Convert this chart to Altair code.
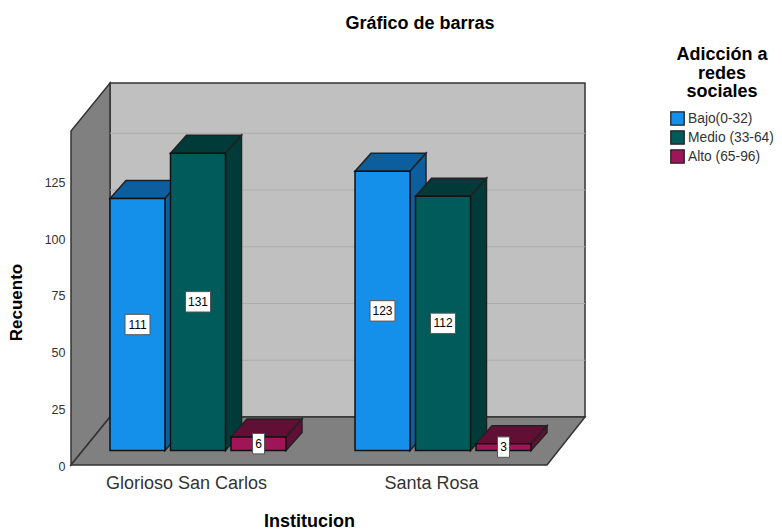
import altair as alt
import pandas as pd

# ---- values
institutions = ["Glorioso San Carlos", "Santa Rosa"]
series = ["Bajo(0-32)", "Medio (33-64)", "Alto (65-96)"]
bajo = [111, 123]
medio = [131, 112]
alto = [6, 3]
y_ticks = [0, 25, 50, 75, 100, 125]

# ---- colours
front_colors = ["#1590EA", "#005B5A", "#A01558"]
dark_colors = ["#0C5F9C", "#003B39", "#620F36"]
WALL = "#C0C0C0"
SIDE = "#808080"
GRID = "#ADADAD"
FONT = "Liberation Sans"

# ---- layout of the pseudo-3D box (x axis units are screen pixels)
PX = 2.27            # pixels per count
W, H = 514, 382
DX, DY = 39, 48 / PX  # depth of the box
BX, BY = 16, 18 / PX  # depth of a bar
BAR_W, STEP, GROUP = 55, 60.5, 245
X0 = 39
BASE = 14.5 / PX
FLOOR_W = 476
BOX_TOP = H / PX


def poly(rows, pid, fill, pts):
    for x, lo, hi in pts:
        rows.append({"poly": pid, "x": x, "y": lo, "y2": hi, "fill": fill})


wall_rows = []
poly(wall_rows, "a", WALL, [(DX, DY, BOX_TOP), (W, DY, BOX_TOP)])
poly(wall_rows, "b", SIDE, [(0, 0, BOX_TOP - DY), (DX, DY, BOX_TOP)])
poly(wall_rows, "c", SIDE, [(0, 0, 0), (DX, 0, DY), (FLOOR_W, 0, DY), (W, DY, DY)])

bars, faces = [], []
for g, inst in enumerate(institutions):
    for s, vals in enumerate([bajo, medio, alto]):
        v = vals[g]
        x1 = X0 + g * GROUP + s * STEP
        x2 = x1 + BAR_W
        lo, hi = BASE, BASE + v * 1.0
        digits = len(str(v))
        hw = (5.5 + 6.5 * digits) / 2
        bars.append({
            "serie": series[s], "x": x1, "x2": x2, "y": lo, "y2": hi,
            "mx": (x1 + x2) / 2, "my": (lo + hi) / 2,
            "bx": (x1 + x2) / 2 - hw, "bx2": (x1 + x2) / 2 + hw,
            "by": (lo + hi) / 2 - 10.2 / PX, "by2": (lo + hi) / 2 + 10.2 / PX,
            "label": str(v),
        })
        pid = f"{g}{s}"
        poly(faces, pid + "t", dark_colors[s],
             [(x1, hi, hi), (x1 + BX, hi, hi + BY), (x2, hi, hi + BY), (x2 + BX, hi + BY, hi + BY)])
        poly(faces, pid + "s", dark_colors[s],
             [(x2, lo, hi), (x2 + BX, lo + BY, hi + BY)])

x_scale = alt.Scale(domain=[0, W], nice=False, zero=False)
y_scale = alt.Scale(domain=[0, BOX_TOP], nice=False, zero=False)
x_axis = alt.Axis(values=[115, 360],
                  labelExpr=f"datum.value < 200 ? '{institutions[0]}' : '{institutions[1]}'",
                  domain=False, ticks=False, grid=False, labelFont=FONT,
                  labelFontSize=18, labelColor="#333333", labelPadding=9,
                  title="Institucion", titleFont=FONT, titleFontSize=18,
                  titleFontWeight="bold", titleColor="#000000",
                  titleX=238, titleY=47, labelAngle=0)
y_axis = alt.Axis(values=y_ticks, domain=False, ticks=False, grid=False,
                  labelFont=FONT, labelFontSize=12.5, labelColor="#333333",
                  labelPadding=6, labelOffset=1, title="Recuento", titleFont=FONT,
                  titleFontSize=17, titleFontWeight="bold",
                  titleColor="#000000", titleX=-46, titleY=219)


def xe(field):
    return alt.X(f"{field}:Q", scale=x_scale, axis=x_axis)


def ye(field):
    return alt.Y(f"{field}:Q", scale=y_scale, axis=y_axis)


def area_layer(rows, width=1.5, stroke="#222222"):
    return alt.Chart(pd.DataFrame(rows)).mark_area(stroke=stroke, strokeWidth=width).encode(
        x=xe("x"), y=ye("y"), y2="y2:Q", detail="poly:N",
        fill=alt.Fill("fill:N", scale=None, legend=None))


walls = area_layer(wall_rows, 1.5, "#333333")

grid_df = pd.DataFrame({"k": [t for t in y_ticks if t > 0]}).assign(x=DX, x2=W)
grid_df["y"] = grid_df.k + DY
grid = alt.Chart(grid_df).mark_rule(color=GRID, strokeWidth=1.2).encode(
    x=xe("x"), x2="x2:Q", y=ye("y"))

faces_layer = area_layer(faces)

bars_df = pd.DataFrame(bars)
fronts = alt.Chart(bars_df).mark_rect(stroke="#111111", strokeWidth=1.5).encode(
    x=xe("x"), x2="x2:Q", y=ye("y"), y2="y2:Q",
    color=alt.Color("serie:N", sort=series,
                    scale=alt.Scale(domain=series, range=front_colors),
                    legend=alt.Legend(
                        title=["Adicción a", "redes", "sociales"],
                        orient="none", legendX=599, legendY=-37,
                        titleFont=FONT, titleFontSize=18, titleFontWeight="bold",
                        titleColor="#000000", titleAlign="center", titleAnchor="middle",
                        titleLineHeight=18.5, titlePadding=10,
                        labelFont=FONT, labelFontSize=13.8, labelColor="#333333",
                        labelOffset=3, labelLimit=200,
                        symbolType="square", symbolSize=180, symbolStrokeColor="#222222",
                        symbolStrokeWidth=1.3, symbolOpacity=1, rowPadding=0, padding=0)))

boxes = alt.Chart(bars_df).mark_rect(fill="#FFFFFF", stroke="#555555", strokeWidth=1).encode(
    x=xe("bx"), x2="bx2:Q", y=ye("by"), y2="by2:Q")
labels = alt.Chart(bars_df).mark_text(font=FONT, fontSize=12, color="#000000",
                                      align="center", baseline="middle").encode(
    x=xe("mx"), y=ye("my"), text="label:N")

chart = alt.layer(walls, grid, faces_layer, fronts, boxes, labels).properties(
    width=W, height=H,
    padding={"left": 63, "top": 75, "right": 189, "bottom": 65},
    autosize=alt.AutoSizeParams(type="none"),
    background="#FFFFFF",
    title=alt.TitleParams("Gráfico de barras", font=FONT, fontSize=18, fontWeight="bold",
                          color="#000000", anchor="middle", dx=92, dy=-9),
).configure_view(strokeWidth=0)

chart.save("out.html", embed_options={"renderer": "svg", "actions": False})
